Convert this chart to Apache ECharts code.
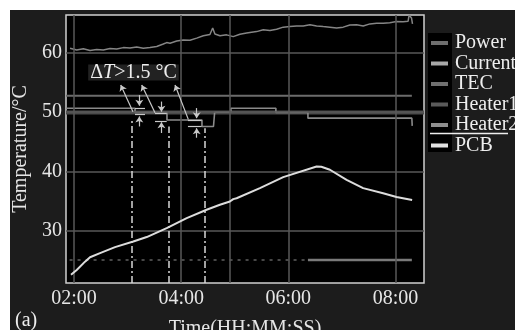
<!DOCTYPE html>
<html><head><meta charset="utf-8">
<script src="https://cdn.jsdelivr.net/npm/echarts@6/dist/echarts.min.js"></script>
<style>
html,body{margin:0;padding:0;background:#fff}
#wrap{position:relative;width:515px;height:330px;background:#fff;overflow:hidden}
#bg{position:absolute;left:10px;top:10px;width:505px;height:320px;background:#1c1c1c}
#c{position:absolute;left:0;top:0;width:515px;height:330px}
</style>
</head><body>
<div id="wrap"><div id="bg"></div><div id="c"></div></div>
<script>
// ---- data (time in seconds, temperature in °C) ----
const xTickVals = [120, 240, 360, 480];
const yTickVals = [30, 40, 50, 60];
const xGridVals = [120, 240, 294.6, 360, 480];
const seriesNames = ['Power', 'Current', 'TEC', 'Heater1', 'Heater2', 'PCB'];

const powerTime = [115.5,123.0,130.4,137.9,145.4,152.8,160.3,167.8,175.2,182.7,190.2,197.6,205.1,212.6,220.0,223.8,227.5,235.0,242.4,249.9,257.4,264.8,272.2,275.3,277.8,283.4,290.9,298.3,305.8,313.3,320.7,324.5,331.9,339.4,346.9,354.3,361.8,369.3,376.7,384.2,391.7,399.1,406.6,414.1,421.5,429.0,436.5,443.9,451.4,458.9,466.3,473.7,481.2,488.6,494.2,495.3,498.0,499.1];
const powerTemp = [60.8,60.5,60.7,60.4,60.6,60.5,60.75,60.65,60.9,60.85,61.0,60.8,60.9,61.1,61.5,61.75,61.65,62.0,62.2,62.15,62.5,62.9,63.1,64.2,63.2,62.9,63.05,62.75,63.15,63.35,63.55,63.6,63.9,63.8,64.0,64.35,64.45,64.55,64.55,64.75,64.55,64.45,64.35,64.2,64.35,64.7,64.75,64.55,64.9,65.0,65.0,65.1,65.3,65.25,65.35,66.4,65.9,64.9];

const pcbTime = [116.6,123.0,132.3,137.9,149.1,165.9,186.4,201.4,223.8,246.2,268.5,283.4,294.6,298.3,302.1,328.2,354.3,391.7,397.0,406.6,425.3,443.8,466.2,481.2,498.7];
const pcbTemp = [22.6,23.4,24.8,25.55,26.25,27.25,28.2,28.95,30.45,32.15,33.55,34.4,34.95,35.35,35.5,37.2,39.05,40.85,40.8,40.3,38.6,37.2,36.35,35.7,35.2];

const tecTime = [111, 498.4];
const tecTemp = [52.8, 52.8];
const heater1Time = [111, 512];
const heater1Temp = [49.95, 49.95];
const heater2Time = [111,188.3,188.3,224.1,224.1,263.3,263.3,276.2,277.5,295.7,295.7,346.1,346.1,382,382,498.4,498.8];
const heater2Temp = [50.67,50.67,49.95,49.95,48.7,48.7,47.6,47.6,50.0,50.0,50.67,50.67,49.95,49.95,49.0,49.0,47.7];
const currentTime = [382, 498.4];
const currentTemp = [25.1, 25.1];
const currentEarlyTime = [115, 382];
const currentEarlyTemp = [25.1, 25.1];

// annotation (data coordinates)
const diagArrows = [[186.0,50.1,172.3,54.6],[210.7,49.9,195.8,54.6],[248.0,48.8,233.1,54.6]];
const markerT = [193.1, 217.9, 257.4];
const markerBarT = [[188.3,199.5],[210.7,223.8],[247.6,262.9]];
const markerTop = [50.66, 49.85, 48.6];
const markerBottom = [49.7, 48.4, 47.6];
const markerDownFrom = [52.9, 51.8, 50.7];
const markerDownTo = [51.1, 50.1, 49.0];
const markerUpFrom = [47.6, 46.5, 45.7];
const markerUpTo = [49.3, 48.3, 47.3];
const dashT = [184.6, 225.6, 265.9];
const dashTop = [49.0, 47.6, 47.3];
const labelPos = [186.6, 56.7];

const xMin = 111, xMax = 512, yMin = 21.2, yMax = 66.4;
const FONT = 'Liberation Serif';
const zip = (a, b) => a.map((v, i) => [v, b[i]]);
const fmt = v => { const m = Math.floor(v / 60), s = Math.round(v % 60); return String(m).padStart(2,'0') + ':' + String(s).padStart(2,'0'); };

const gridLines = xGridVals.map(x => ({xAxis: x})).concat(yTickVals.map(y => ({yAxis: y})));

const annotLines = [];
diagArrows.forEach(a => annotLines.push([{coord:[a[0],a[1]], symbol:'none'},{coord:[a[2],a[3]], symbol:'arrow'}]));
markerT.forEach((t, i) => {
  annotLines.push([{coord:[t,markerDownFrom[i]], symbol:'none'},{coord:[t,markerDownTo[i]], symbol:'arrow'}]);
  annotLines.push([{coord:[t,markerUpFrom[i]], symbol:'none'},{coord:[t,markerUpTo[i]], symbol:'arrow'}]);
  annotLines.push([{coord:[markerBarT[i][0],markerTop[i]], symbol:'none'},{coord:[markerBarT[i][1],markerTop[i]], symbol:'none'}]);
  annotLines.push([{coord:[markerBarT[i][0],markerBottom[i]], symbol:'none'},{coord:[markerBarT[i][1],markerBottom[i]], symbol:'none'}]);
});
dashT.forEach((t, i) => annotLines.push([
  {coord:[t,yMin], symbol:'none', lineStyle:{type:[7,3,2,3], color:'#d8d8d8', width:1.5}},
  {coord:[t,dashTop[i]], symbol:'none'}]));

const chart = echarts.init(document.getElementById('c'), null, {renderer:'canvas'});
chart.setOption({
  animation: false,
  backgroundColor: 'transparent',
  grid: {left: 66, right: 91, top: 15, bottom: 47, containLabel: false, outerBoundsMode: 'none',
         show: true, backgroundColor: '#000', borderColor: '#cfcfcf', borderWidth: 1.5},
  xAxis: {
    type: 'value', min: xMin, max: xMax,
    name: 'Time(HH:MM:SS)', nameLocation: 'middle', nameGap: 36,
    nameTextStyle: {color: '#e6e6e6', fontFamily: FONT, fontSize: 20},
    axisLine: {show: false}, axisTick: {show: false}, splitLine: {show: false},
    axisLabel: {customValues: xTickVals, formatter: fmt, color: '#e6e6e6', fontFamily: FONT, fontSize: 20, margin: 6}
  },
  yAxis: {
    type: 'value', min: yMin, max: yMax,
    name: 'Temperature/°C', nameLocation: 'middle', nameGap: 30,
    nameTextStyle: {color: '#e6e6e6', fontFamily: FONT, fontSize: 20},
    axisLine: {show: false}, axisTick: {show: false}, splitLine: {show: false},
    axisLabel: {customValues: yTickVals, color: '#e6e6e6', fontFamily: FONT, fontSize: 20, margin: 4}
  },
  legend: {
    orient: 'vertical', left: 431, top: 33, padding: 0, itemGap: 0.5,
    itemWidth: 17, itemHeight: 4, icon: 'rect',
    textStyle: {color: '#eeeeee', fontFamily: FONT, fontSize: 20, padding: [0,0,0,2]},
    data: seriesNames
  },
  graphic: [
    {type: 'rect', shape: {x: 428, y: 33, width: 24, height: 119}, style: {fill: '#000'}, z: 0},
    {type: 'line', shape: {x1: 430, y1: 133.5, x2: 508, y2: 133.5}, style: {stroke: '#eee', lineWidth: 1.5}, z: 10},
    {type: 'text', left: 15, top: 311, style: {text: '(a)', fill: '#eee', font: '20px "Liberation Serif"'}, z: 10}
  ],
  series: [
    {type: 'line', name: 'gridhelper', data: [], z: 1, silent: true,
     markLine: {silent: true, symbol: 'none', label: {show: false}, lineStyle: {color: '#585858', width: 1.5, type: 'solid'}, data: gridLines}},
    {type: 'line', name: 'Heater1', data: zip(heater1Time, heater1Temp), showSymbol: false, z: 2, lineStyle: {color: '#4a4a4a', width: 4}, itemStyle: {color: '#5a5a5a'}},
    {type: 'line', name: 'TEC', data: zip(tecTime, tecTemp), showSymbol: false, z: 3, lineStyle: {color: '#6c6c6c', width: 2}, itemStyle: {color: '#707070'}},
    {type: 'line', name: 'Heater2', data: zip(heater2Time, heater2Temp), showSymbol: false, z: 3, lineStyle: {color: '#8a8a8a', width: 1.6}, itemStyle: {color: '#8e8e8e'}},
    {type: 'line', name: 'currentEarly', data: zip(currentEarlyTime, currentEarlyTemp), showSymbol: false, z: 3, lineStyle: {color: '#606060', width: 1.5, type: [3,5]}},
    {type: 'line', name: 'Current', data: zip(currentTime, currentTemp), showSymbol: false, z: 3, lineStyle: {color: '#7a7a7a', width: 2.5}, itemStyle: {color: '#a8a8a8'}},
    {type: 'line', name: 'Power', data: zip(powerTime, powerTemp), showSymbol: false, z: 4, lineStyle: {color: '#858585', width: 1.5}, itemStyle: {color: '#6e6e6e'}},
    {type: 'line', name: 'PCB', data: zip(pcbTime, pcbTemp), showSymbol: false, z: 5, lineStyle: {color: '#dcdcdc', width: 2}, itemStyle: {color: '#e2e2e2'}},
    {type: 'line', name: 'annot', data: [], z: 6, silent: true,
     markLine: {silent: true, symbol: ['none','arrow'], symbolSize: 6, label: {show: false}, lineStyle: {color: '#c8c8c8', width: 1.2, type: 'solid'}, data: annotLines},
     markPoint: {silent: true, symbol: 'rect', symbolSize: 1, itemStyle: {color: 'transparent'},
       label: {show: true, position: 'inside', formatter: '{a|Δ}{i|T}{a|>1.5 °C}', backgroundColor: '#222', padding: [0, 2],
         rich: {a: {fontFamily: FONT, fontSize: 20, color: '#eee', lineHeight: 16}, i: {fontFamily: FONT, fontSize: 20, fontStyle: 'italic', color: '#eee', lineHeight: 16}}},
       data: [{coord: labelPos}]}}
  ]
});
</script>
</body></html>
